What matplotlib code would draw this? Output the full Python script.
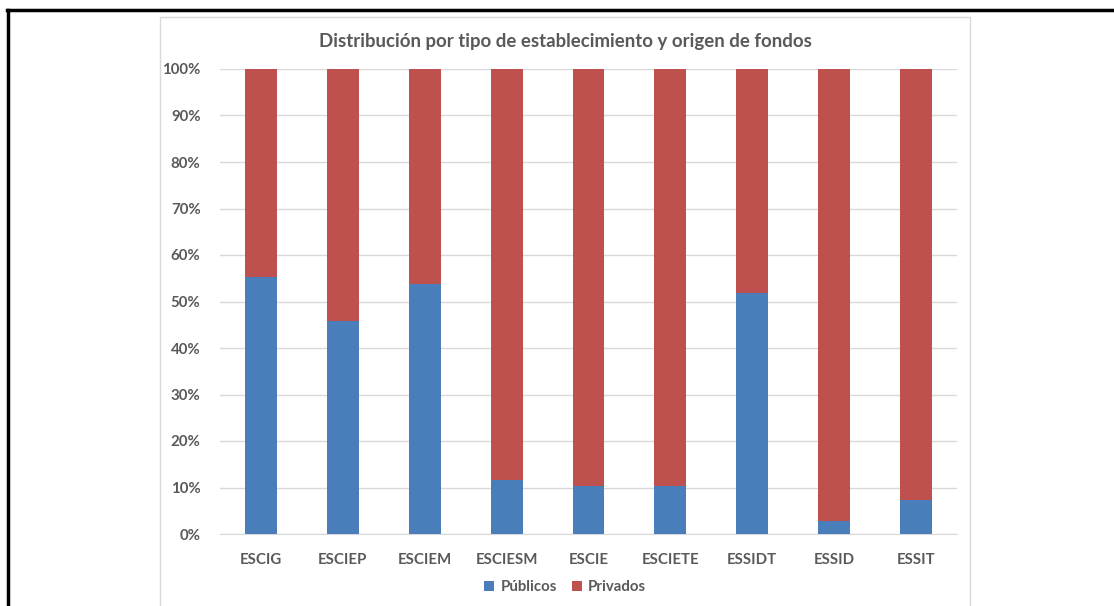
import matplotlib
matplotlib.use("Agg")
import matplotlib.pyplot as plt
from matplotlib.patches import Rectangle
from matplotlib.lines import Line2D
from matplotlib.ticker import PercentFormatter

# Datos (porcentaje público; privado = resto)
categorias = ['ESCIG', 'ESCIEP', 'ESCIEM', 'ESCIESM', 'ESCIE', 'ESCIETE', 'ESSIDT', 'ESSID', 'ESSIT']
publicos = [55.2, 45.8, 53.8, 11.7, 10.3, 10.3, 51.8, 2.8, 7.3]
privados = [100 - p for p in publicos]

azul = '#4a7ebb'
rojo = '#be504d'
gris_texto = '#595959'

plt.rcParams['font.family'] = ['Lato', 'DejaVu Sans']

W, H = 1114, 606
fig = plt.figure(figsize=(W / 100, H / 100), dpi=100)

# marco negro exterior
fig.add_artist(Line2D([7 / W, 1], [1 - 10 / H, 1 - 10 / H], color='black', lw=2.5, transform=fig.transFigure))
fig.add_artist(Line2D([8 / W, 8 / W], [0, 1 - 10 / H], color='black', lw=2.5, transform=fig.transFigure))
# borde del área del gráfico
fig.add_artist(Rectangle((160 / W, -0.01), (970 - 160) / W, 1 - 17 / H + 0.01, fill=False,
                         edgecolor='#d9d9d9', lw=1, transform=fig.transFigure))

ax = fig.add_axes([220 / W, 72 / H, (957 - 220) / W, 465 / H])
x = range(len(categorias))
ax.bar(x, publicos, width=0.39, color=azul, label='Públicos', zorder=3)
ax.bar(x, privados, width=0.39, bottom=publicos, color=rojo, label='Privados', zorder=3)

ax.set_xlim(-0.5, len(categorias) - 0.5)
ax.set_ylim(0, 100)
ax.set_yticks(range(0, 101, 10))
ax.yaxis.set_major_formatter(PercentFormatter(decimals=0))
ax.set_xticks(list(x))
ax.set_xticklabels(categorias)
ax.grid(axis='y', color='#d9d9d9', lw=1, zorder=0)
for s in ['top', 'right', 'left']:
    ax.spines[s].set_visible(False)
ax.spines['bottom'].set_color('#d9d9d9')
ax.tick_params(length=0, colors=gris_texto, labelsize=10.8)
ax.tick_params(axis='y', pad=14)
ax.tick_params(axis='x', pad=14)
for lbl in ax.get_xticklabels() + ax.get_yticklabels():
    lbl.set_fontweight('bold')

fig.text(565 / W, 1 - 41 / H, 'Distribución por tipo de establecimiento y origen de fondos',
         ha='center', va='center', fontsize=13.4, fontweight='bold', color=gris_texto)

leg = ax.legend(loc='center', bbox_to_anchor=(565 / W, 1 - 587 / H), bbox_transform=fig.transFigure,
                ncol=2, frameon=False, handlelength=0.7, handleheight=0.7, handletextpad=0.4,
                columnspacing=1.0, prop={'weight': 'bold', 'size': 10.8})
for t in leg.get_texts():
    t.set_color(gris_texto)

fig.savefig('out.png', dpi=100)
